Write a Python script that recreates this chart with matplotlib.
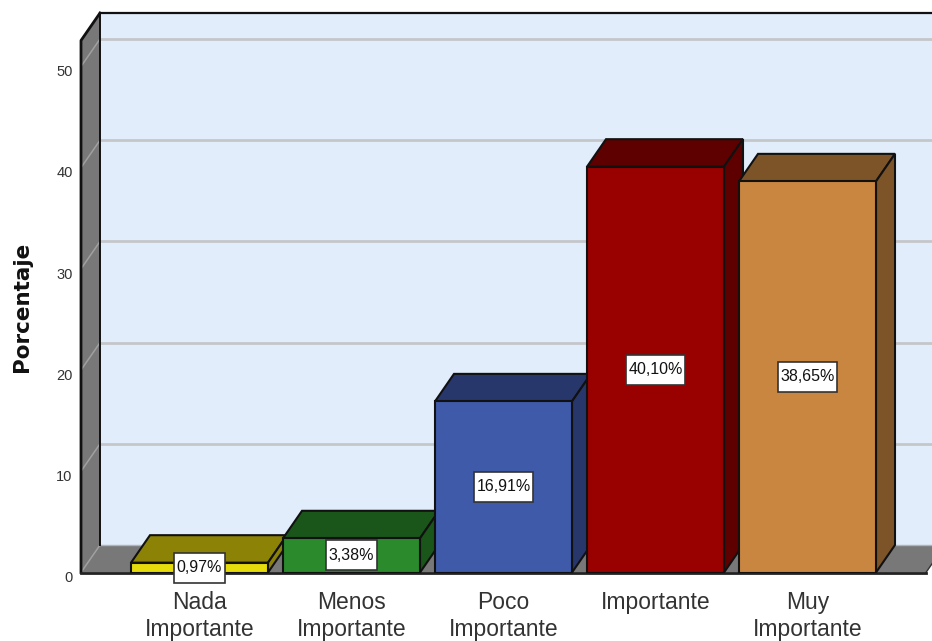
import matplotlib
matplotlib.use("Agg")
import matplotlib.pyplot as plt
from matplotlib.patches import Polygon, Rectangle
from matplotlib.transforms import ScaledTranslation
import numpy as np

# Categories and percentages
categorias = ["Nada\nImportante", "Menos\nImportante", "Poco\nImportante", "Importante", "Muy\nImportante"]
porcentajes = [0.97, 3.38, 16.91, 40.10, 38.65]
etiquetas = ["0,97%", "3,38%", "16,91%", "40,10%", "38,65%"]
ticks_y = [0, 10, 20, 30, 40, 50]

# Bar colours: front face and shaded top/side
color_frente = ["#e6dc0c", "#2a8a2c", "#3e5aa8", "#990000", "#c98640"]
color_lado = ["#8c8206", "#1a551a", "#27376b", "#5e0000", "#7c5428"]

W, H = 932, 641
px_y = 10.12   # pixels per percentage point
px_x = 152.0   # pixels between categories
x0_px = 81.0
y0_px = 572.5

fig = plt.figure(figsize=(W / 100, H / 100), dpi=100)
ax = fig.add_axes([x0_px / W, (H - y0_px) / H, (W - x0_px) / W, y0_px / H])
ax.set_xlim((x0_px - 199.5) / px_x, (W - 199.5) / px_x)
ax.set_ylim(0, y0_px / px_y)
for s in ax.spines.values():
    s.set_visible(False)

# Depth of the 3D box
dx = 19 / px_x
dy = 27.5 / px_y
xizq = ax.get_xlim()[0]
xder = ax.get_xlim()[1] + 0.2
ytop = 559.5 / px_y - dy   # top of the side wall, front edge
xsuelo = xizq + 845 / px_x
negro = "#111111"
gris = "#787878"

# Back wall
ax.add_patch(Polygon([(xizq + dx, dy), (xder, dy), (xder, ytop + dy), (xizq + dx, ytop + dy)],
                     fc="#e1edfb", ec="none", zorder=1))
ax.plot([xizq + dx, xder], [ytop + dy, ytop + dy], color=negro, lw=1.6, zorder=1.6)
for v in ticks_y[1:]:
    ax.plot([xizq + dx, xder], [v + dy, v + dy], color="#c4c6ca", lw=2, zorder=1.5)

# Floor
ax.add_patch(Polygon([(xizq, 0), (xsuelo, 0), (xsuelo + dx, dy), (xizq + dx, dy)],
                     fc=gris, ec="none", zorder=2))
ax.plot([xsuelo, xsuelo + dx], [0, dy], color="#333333", lw=1, zorder=2.2)
ax.plot([xizq + dx, xder], [dy, dy], color="#b0b4ba", lw=1, zorder=2.1)

# Left wall
ax.add_patch(Polygon([(xizq, 0), (xizq + dx, dy), (xizq + dx, ytop + dy), (xizq, ytop)],
                     fc=gris, ec="none", zorder=2))
for v in ticks_y:
    ax.plot([xizq, xizq + dx], [v, v + dy], color="#a0a0a0", lw=1.1, zorder=2.1)
ax.plot([xizq + dx, xizq + dx], [dy, ytop + dy], color=negro, lw=1.4, zorder=2.3)
ax.plot([xizq, xizq, xizq + dx], [0, ytop, ytop + dy], color=negro, lw=2, zorder=2.4, clip_on=False)
ax.plot([xizq, xsuelo], [0, 0], color="#222222", lw=2, zorder=2.5, clip_on=False)

# Bars: front face plus top and side faces
ancho = 137 / px_x
pos = np.arange(len(porcentajes))
for i, (p, cf, cl) in enumerate(zip(porcentajes, color_frente, color_lado)):
    z = 3 + i
    xa = pos[i] - ancho / 2
    xb = pos[i] + ancho / 2
    ax.add_patch(Polygon([(xa, p), (xb, p), (xb + dx, p + dy), (xa + dx, p + dy)],
                         fc=cl, ec=negro, lw=1.5, zorder=z))
    ax.add_patch(Polygon([(xb, 0), (xb + dx, dy), (xb + dx, p + dy), (xb, p)],
                         fc=cl, ec=negro, lw=1.5, zorder=z))
    ax.bar(pos[i], p, width=ancho, color=cf, edgecolor=negro, linewidth=1.5, zorder=z + 0.1)

# Value labels, each on a white box sized from its text
renderer = fig.canvas.get_renderer()
alto_caja = 30 / px_y
for i, (p, e) in enumerate(zip(porcentajes, etiquetas)):
    t = ax.text(pos[i], p / 2, e, ha="center", va="center", fontsize=11.5,
                family="Liberation Sans", color="#111111", zorder=11)
    ancho_caja = (t.get_window_extent(renderer).width + 5) / px_x
    ax.add_patch(Rectangle((pos[i] - ancho_caja / 2, p / 2 - alto_caja / 2), ancho_caja, alto_caja,
                           fc="white", ec="#333333", lw=1.2, zorder=10, clip_on=False))

# Axis ticks and labels
ax.set_yticks(ticks_y)
ax.set_yticklabels([str(v) for v in ticks_y], fontsize=10.5, family="Liberation Sans", color="#333333")
ax.tick_params(axis="y", length=0, pad=6)
baja = ScaledTranslation(0, -3 / 72, fig.dpi_scale_trans)
for lab in ax.get_yticklabels():
    lab.set_transform(lab.get_transform() + baja)
ax.set_xticks(pos)
ax.set_xticklabels(categorias, fontsize=16.5, family="Liberation Sans",
                   color="#333333", linespacing=1.26, va="top")
ax.tick_params(axis="x", length=0, pad=13)
fig.text(22 / W, 1 - 307 / H, "Porcentaje", rotation=90, ha="center", va="center",
         fontsize=15.5, fontweight="bold", family="DejaVu Sans", color="#111111")

fig.savefig("out.png", dpi=100)
